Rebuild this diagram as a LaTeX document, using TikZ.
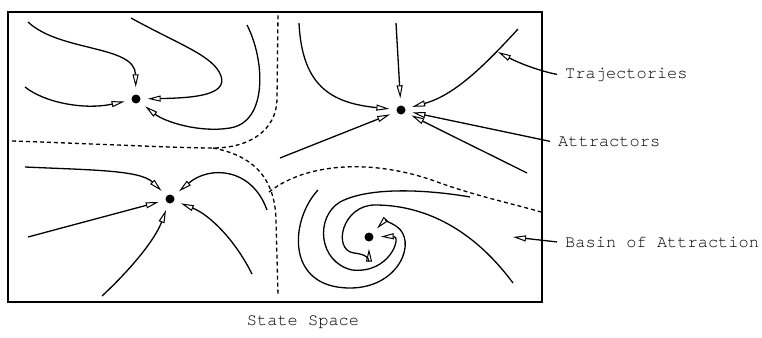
\documentclass[tikz,border=0pt]{standalone}
\usepackage{fontspec}
\newfontfamily\labelfont{texgyrecursor-regular.otf}
\usetikzlibrary{arrows.meta}

\begin{document}
\begin{tikzpicture}[x=1pt, y=-1pt,
    traj/.style={line width=1.3pt, -{Triangle[open, length=13pt, width=6pt, line width=1pt]}, shorten >=7pt},
    pointer/.style={traj, shorten >=0pt},
    basin/.style={line width=1.3pt, dash pattern=on 4pt off 3pt},
    attractor/.style={circle, fill=black, inner sep=0pt, minimum size=9pt},
    lbl/.style={font=\labelfont\fontsize{17}{20}\selectfont, anchor=base west, inner xsep=8pt, inner ysep=0pt}
]
    \useasboundingbox (0,0) rectangle (762,337);

    \node[draw, line width=1.6pt, minimum width=534pt, minimum height=290pt, inner sep=0pt] (space) at (275,157) {};

    \node[attractor] (a1) at (136,99) {};
    \node[attractor] (a2) at (401,110) {};
    \node[attractor] (a3) at (170,199) {};
    \node[attractor] (a4) at (369,237) {};

    % basin borders
    \draw[basin] (12,141) .. controls (100,144) and (180,148) .. (213,148)
        .. controls (250,148) and (276,130) .. (277,100) -- (278,13);
    \draw[basin] (213,148) .. controls (250,155) and (275,175) .. (276,220) -- (278,295);
    \draw[basin] (269,192) .. controls (310,160) and (380,160) .. (440,183)
        .. controls (480,197) and (510,203) .. (541,212);

    % top left
    \draw[traj] (28,22) .. controls (60,52) and (135,45) .. (a1);
    \draw[traj] (25,87) .. controls (45,103) and (85,110) .. (a1);
    \draw[traj] (131,18) .. controls (180,45) and (214,56) .. (221,76)
        .. controls (228,96) and (190,98) .. (a1);
    \draw[traj] (247,25) .. controls (265,60) and (268,122) .. (230,128)
        .. controls (200,133) and (165,122) .. (a1);

    % top right
    \draw[traj] (299,23) .. controls (302,85) and (330,103) .. (a2);
    \draw[traj] (396,23) -- (a2);
    \draw[traj] (518,29) .. controls (485,65) and (455,95) .. (a2);
    \draw[traj] (280,158) -- (a2);
    \draw[traj] (527,173) .. controls (485,152) and (440,130) .. (a2);

    % bottom left
    \draw[traj] (25,167) .. controls (90,170) and (140,170) .. (a3);
    \draw[traj] (28,237) -- (a3);
    \draw[traj] (102,296) .. controls (130,270) and (155,240) .. (a3);
    \draw[traj] (252,274) .. controls (235,240) and (210,215) .. (a3);
    \draw[traj] (267,210) .. controls (252,168) and (210,165) .. (a3);

    % spiral
    \draw[traj] (470,197) .. controls (430,190) and (370,186) .. (340,202)
        .. controls (315,217) and (318,262) .. (352,270)
        .. controls (390,274) and (402,236) .. (a4);
    \draw[traj] (513,283) .. controls (470,225) and (420,205) .. (375,205)
        .. controls (342,205) and (332,250) .. (354,253)
        .. controls (362,254) and (369,256) .. (a4);
    \draw[traj] (318,190) .. controls (290,220) and (285,288) .. (350,288)
        .. controls (400,288) and (418,240) .. (396,226)
        .. controls (390,222) and (384,221) .. (a4);

    % labels
    \node[lbl] (ltraj) at (557,78) {Trajectories};
    \node[lbl] (lattr) at (550,146) {Attractors};
    \node[lbl] (lbasin) at (557,247) {Basin of Attraction};
    \node[lbl, anchor=base] (lspace) at (303,325) {State Space};

    \coordinate (ttip) at (498,52);
    \coordinate (btip) at (513,237);
    \draw[pointer] (ltraj.west) .. controls (535,70) and (515,61) .. (ttip);
    \draw[traj] (lattr.west) -- (a2);
    \draw[pointer] (lbasin.west) -- (btip);
\end{tikzpicture}
\end{document}
